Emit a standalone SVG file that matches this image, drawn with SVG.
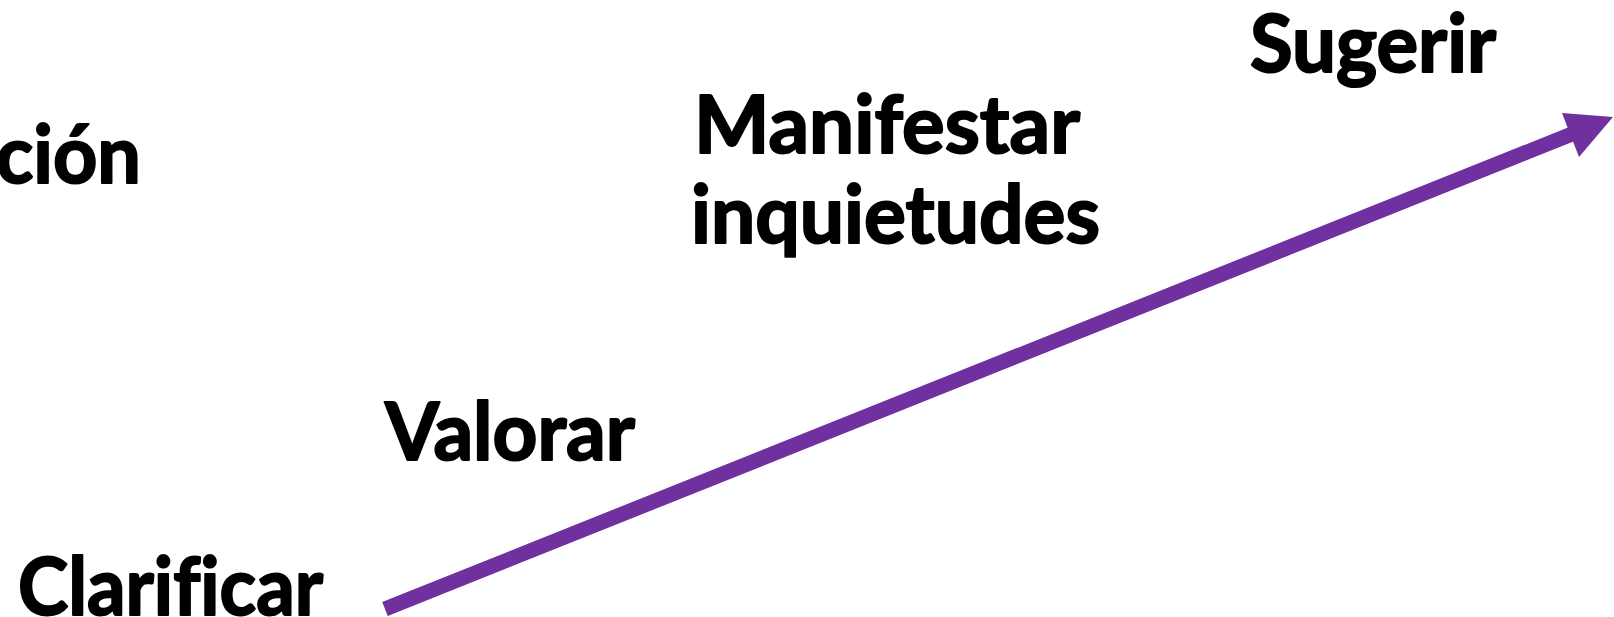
<svg xmlns="http://www.w3.org/2000/svg" width="1614" height="617" viewBox="0 0 1614 617">
<style>
.t{font-family:Lato,"Open Sans","Liberation Sans",sans-serif;font-weight:bold;font-size:80px;fill:#000;stroke:#000;stroke-width:2px;stroke-linejoin:round;font-variant-ligatures:none;font-feature-settings:"liga" 0}
</style>
<rect width="1614" height="617" fill="#fff"/>
<g id="connectors">
<line x1="385" y1="609" x2="1572" y2="134" stroke="#7030A0" stroke-width="15"/>
<polygon points="1562,113 1613,117 1579,157" fill="#7030A0"/>
</g>
<g id="n-cion"><text class="t" x="-4" y="183" textLength="145" lengthAdjust="spacingAndGlyphs">ción</text></g>
<g id="n-sugerir"><text class="t" x="1250" y="72" textLength="246" lengthAdjust="spacingAndGlyphs">Sugerir</text></g>
<g id="n-manifestar"><text class="t" x="694" y="153" textLength="386" lengthAdjust="spacingAndGlyphs">Manifestar</text><text class="t" x="691" y="243" textLength="409" lengthAdjust="spacingAndGlyphs">inquietudes</text></g>
<g id="n-valorar"><text class="t" x="385" y="460" textLength="250" lengthAdjust="spacingAndGlyphs">Valorar</text></g>
<g id="n-clarificar"><text class="t" x="18" y="615" textLength="305" lengthAdjust="spacingAndGlyphs">Clarificar</text></g>
</svg>
